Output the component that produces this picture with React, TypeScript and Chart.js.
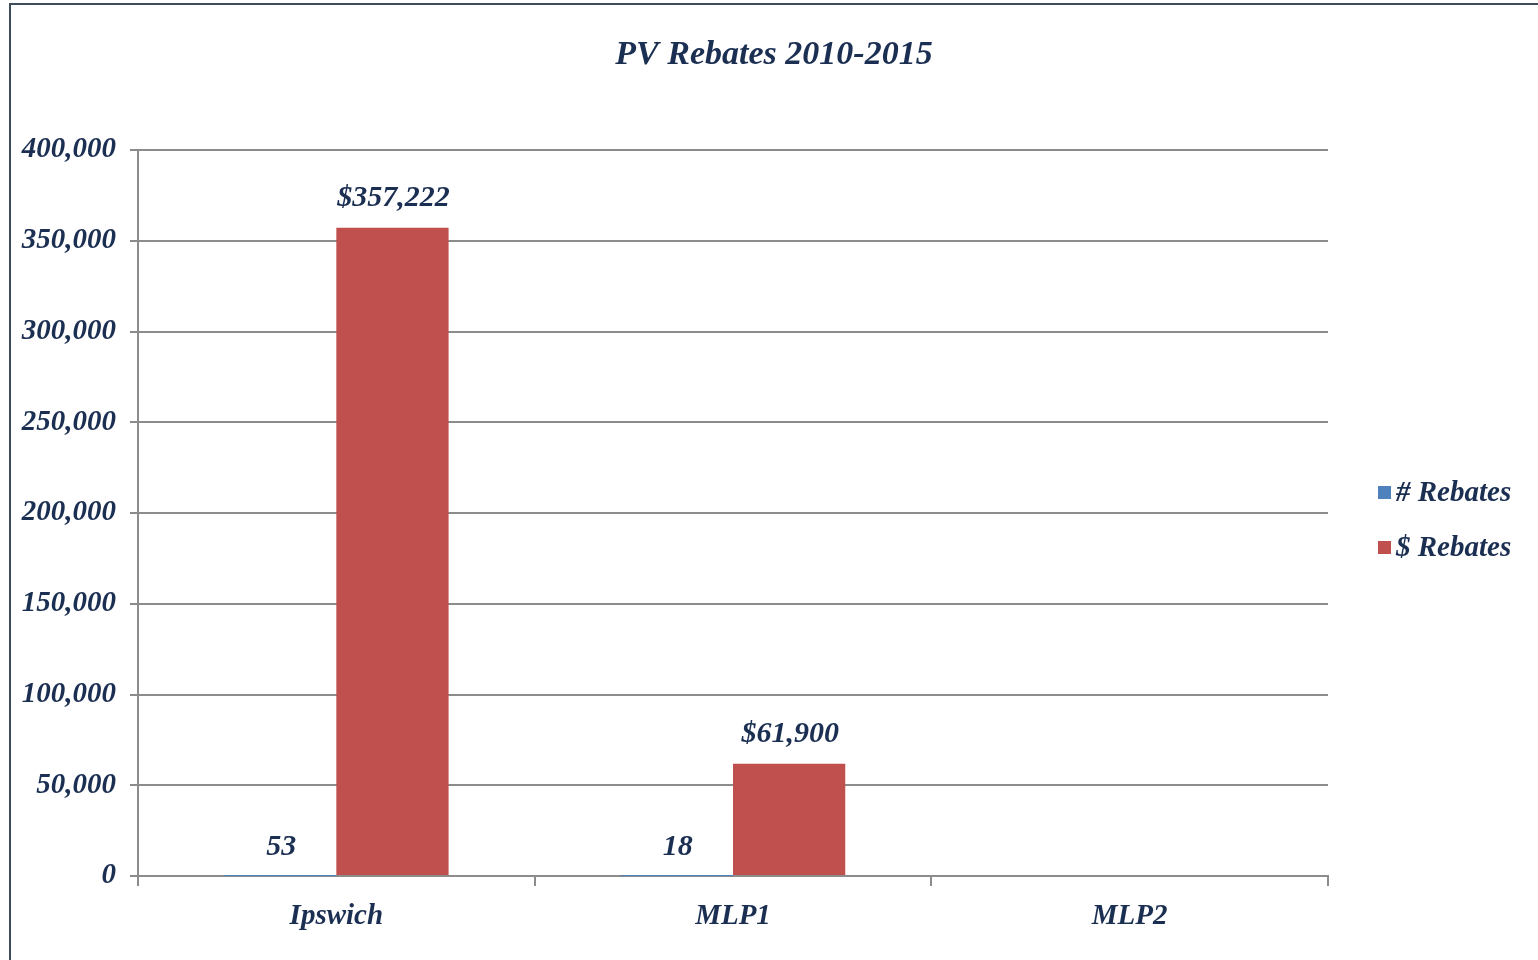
import React, { useEffect, useRef } from "react";
import { Chart, registerables } from "chart.js";

Chart.register(...registerables);

const categories = ["Ipswich", "MLP1", "MLP2"];
const countRebates = [53, 18, 0];
const dollarRebates = [357222, 61900, 0];
const seriesNames = ["# Rebates", "$ Rebates"];
const seriesColors = ["#4F81BD", "#C0504D"];
const titleText = "PV Rebates 2010-2015";

const TEXT = "#1B2F52";
const FONT = "'Liberation Serif', 'Times New Roman', serif";

const framePlugin = {
  id: "frame",
  beforeDraw(chart: any) {
    const ctx = chart.ctx;
    ctx.save();
    ctx.fillStyle = "#ffffff";
    ctx.fillRect(0, 0, chart.width, chart.height);
    ctx.strokeStyle = "#3E4C5C";
    ctx.lineWidth = 2;
    ctx.strokeRect(10, 4, 1600, 1000);
    ctx.restore();
  },
  afterDraw(chart: any) {
    const ctx = chart.ctx;
    ctx.save();
    // title
    ctx.fillStyle = TEXT;
    ctx.font = `italic bold 34px ${FONT}`;
    ctx.textAlign = "center";
    ctx.textBaseline = "middle";
    ctx.fillText(titleText, 774, 55);
    // legend
    ctx.font = `italic bold 29px ${FONT}`;
    ctx.textAlign = "left";
    chart.data.datasets.forEach((ds: any, i: number) => {
      const y = 494 + i * 55;
      ctx.fillStyle = ds.backgroundColor;
      ctx.fillRect(1378, y - 8, 13, 13);
      ctx.fillStyle = TEXT;
      ctx.fillText(ds.label, 1396, y);
    });
    ctx.restore();
  },
};

const labelPlugin = {
  id: "valueLabels",
  afterDatasetsDraw(chart: any) {
    const ctx = chart.ctx;
    ctx.save();
    ctx.fillStyle = TEXT;
    ctx.font = `italic bold 30px ${FONT}`;
    ctx.textAlign = "center";
    ctx.textBaseline = "middle";
    chart.data.datasets.forEach((ds: any, di: number) => {
      const meta = chart.getDatasetMeta(di);
      meta.data.forEach((el: any, i: number) => {
        const v = ds.data[i];
        if (!v) return;
        const txt = di === 1 ? "$" + v.toLocaleString("en-US") : String(v);
        ctx.fillText(txt, el.x + 1, el.y - 29);
      });
    });
    ctx.restore();
  },
};

export default function App() {
  const ref = useRef<HTMLCanvasElement>(null);
  useEffect(() => {
    if (!ref.current) return;
    const chart = new Chart(ref.current, {
      type: "bar",
      data: {
        labels: categories,
        datasets: [
          { label: seriesNames[0], data: countRebates, backgroundColor: seriesColors[0] },
          { label: seriesNames[1], data: dollarRebates, backgroundColor: seriesColors[1] },
        ],
      },
      options: {
        animation: false,
        responsive: false,
        layout: { padding: { top: 150, left: 0, right: 210, bottom: 0 } },
        datasets: { bar: { categoryPercentage: 0.566, barPercentage: 1 } },
        plugins: { legend: { display: false }, title: { display: false }, tooltip: { enabled: false } },
        scales: {
          x: {
            offset: true,
            afterFit(scale: any) {
              scale.height = 84;
            },
            grid: {
              offset: true,
              drawOnChartArea: false,
              drawTicks: true,
              tickLength: 10,
              color: "#8C8C8C",
              lineWidth: 2,
            },
            border: { display: true, color: "#8C8C8C", width: 2 },
            ticks: {
              color: TEXT,
              font: { family: FONT, size: 29, style: "italic", weight: "bold" },
              padding: 13,
            },
          },
          y: {
            min: 0,
            max: 400000,
            afterFit(scale: any) {
              scale.width = 138;
            },
            grid: { color: "#8C8C8C", lineWidth: 2, tickLength: 8 },
            border: { display: true, color: "#8C8C8C", width: 2 },
            ticks: {
              stepSize: 50000,
              color: TEXT,
              padding: 14,
              font: { family: FONT, size: 29, style: "italic", weight: "bold" },
              callback: (v: any) => Number(v).toLocaleString("en-US"),
            },
          },
        },
      },
      plugins: [framePlugin, labelPlugin],
    });
    return () => chart.destroy();
  }, []);
  return (
    <div style={{ position: "fixed", left: 0, top: 0, width: 1538, height: 960, overflow: "hidden" }}>
      <canvas ref={ref} width={1538} height={960} style={{ display: "block" }} />
    </div>
  );
}
